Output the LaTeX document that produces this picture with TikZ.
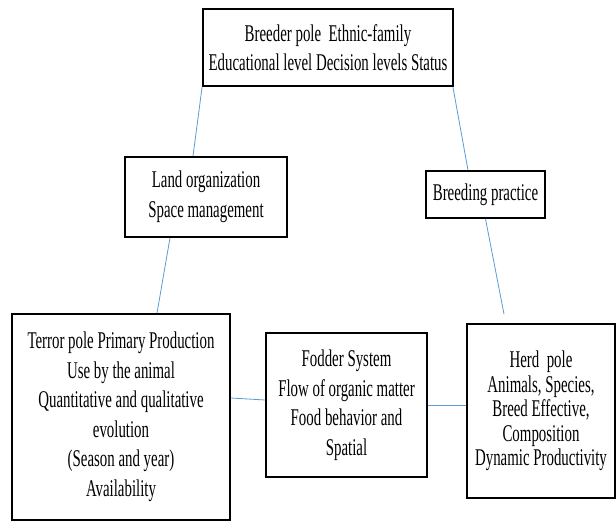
\documentclass[tikz,border=0pt]{standalone}
\usepackage{fontspec}
\setmainfont{Liberation Serif}[FakeStretch=0.62]
\usepackage{tikz}
\usepackage{xcolor}
\usetikzlibrary{positioning}
\definecolor{linkblue}{RGB}{91,155,213}

\begin{document}
\begin{tikzpicture}[x=1pt, y=-1pt,
  every node/.style={font=\fontsize{24}{29.5}\selectfont},
  pole/.style={draw, line width=1.8pt, fill=white, align=center, inner sep=0pt},
  link/.style={linkblue, line width=0.8pt}]
  \useasboundingbox (0,0) rectangle (616,521);
  % Breeder pole (top)
  \node[pole, minimum width=250pt, minimum height=77pt] (breeder) at (328,47.5)
    {Breeder pole\ \ Ethnic-family\\Educational level Decision levels Status};
  % Middle row
  \node[pole, minimum width=162pt, minimum height=80pt] (land) at (206,197)
    {Land organization\\Space management};
  \node[pole, minimum width=119pt, minimum height=47pt] (practice) at (485.5,194.5)
    {Breeding practice};
  % Bottom row
  \node[pole, minimum width=218pt, minimum height=206pt] (terroir) at (121,417)
    {Terror pole Primary Production\\Use by the animal\\Quantitative and qualitative\\evolution\\(Season and year)\\Availability};
  \node[pole, minimum width=161pt, minimum height=144pt] (fodder) at (346.5,405)
    {Fodder System\\Flow of organic matter\\Food behavior and\\Spatial};
  \node[pole, minimum width=148pt, minimum height=174pt,
        font=\fontsize{24}{24.5}\selectfont] (herd) at (541,411)
    {Herd\ \ pole\\Animals, Species,\\Breed Effective,\\Composition\\Dynamic Productivity};
  % Links
  \draw[link] (breeder.south west) -- ([xshift=-13pt]land.north);
  \draw[link] ([xshift=-1pt]breeder.south east) -- ([xshift=-17.5pt]practice.north);
  \draw[link] ([xshift=-36pt]land.south) -- ([xshift=36pt]terroir.north);
  \draw[link] (practice.south) -- ([xshift=-37pt, yshift=9pt]herd.north);
  \draw[link] ([yshift=19pt]terroir.east) -- ([yshift=5pt]fodder.west);
  \draw[link] (fodder.east) -- (fodder.east -| herd.west);
\end{tikzpicture}
\end{document}
